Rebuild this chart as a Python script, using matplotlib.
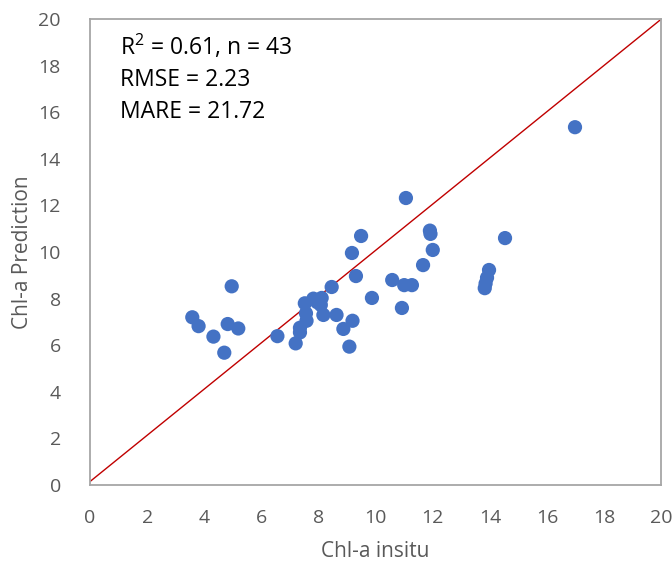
import matplotlib
matplotlib.use("Agg")
import matplotlib.pyplot as plt

chl_insitu = [4.96, 3.58, 3.80, 4.32, 4.82, 5.19, 4.70,
              6.56, 7.20, 7.35, 7.35, 7.58, 7.56, 7.52, 7.82, 8.11, 8.08, 8.17,
              8.63, 8.46, 8.87, 9.19, 9.08, 9.87, 9.31, 9.17, 9.49, 7.95,
              10.58, 11.00, 11.27, 10.92, 11.66, 12.00, 11.90, 11.92, 11.06,
              14.53, 13.97, 13.90, 13.85, 13.82, 16.98]
chl_pred = [8.53, 7.20, 6.82, 6.37, 6.91, 6.72, 5.68,
            6.39, 6.08, 6.75, 6.55, 7.05, 7.37, 7.80, 8.00, 8.03, 7.73, 7.30,
            7.30, 8.50, 6.70, 7.05, 5.94, 8.03, 8.97, 9.96, 10.69, 7.85,
            8.80, 8.58, 8.58, 7.60, 9.44, 10.09, 10.92, 10.78, 12.32,
            10.60, 9.23, 8.90, 8.65, 8.45, 15.36]

stats_lines = ["R$^2$ = 0.61, n = 43", "RMSE = 2.23", "MARE = 21.72"]

plt.rcParams['font.family'] = ['Open Sans', 'DejaVu Sans']
plt.rcParams['mathtext.fontset'] = 'custom'
plt.rcParams['mathtext.rm'] = 'Open Sans'

fig = plt.figure(figsize=(6.72, 5.62), dpi=100)
ax = fig.add_axes([0.134, 0.137, 0.850, 0.829])

# 1:1 line
ax.plot([0, 20], [0.15, 20], color='#C00000', linewidth=1, zorder=2)
ax.scatter(chl_insitu, chl_pred, s=105, color='#4472C4', edgecolors='none', zorder=3)

ax.set_xlim(0, 20)
ax.set_ylim(0, 20)
ax.set_xticks(range(0, 21, 2))
ax.set_yticks(range(0, 21, 2))
ax.tick_params(length=0, labelsize=14, labelcolor='#595959')
ax.tick_params(axis='x', pad=17)
ax.tick_params(axis='y', pad=21)
for sp in ax.spines.values():
    sp.set_color('#A6A6A6')
    sp.set_linewidth(1.3)

ax.set_xlabel('Chl-a insitu', fontsize=15, color='#595959', labelpad=10)
ax.set_ylabel('Chl-a Prediction', fontsize=15, color='#595959', labelpad=4)

for i, line in enumerate(stats_lines):
    ax.text(1.05, 18.8 - 1.4 * i, line, fontsize=16.5, color='black', va='center', ha='left')

fig.savefig('out.png', dpi=100)
